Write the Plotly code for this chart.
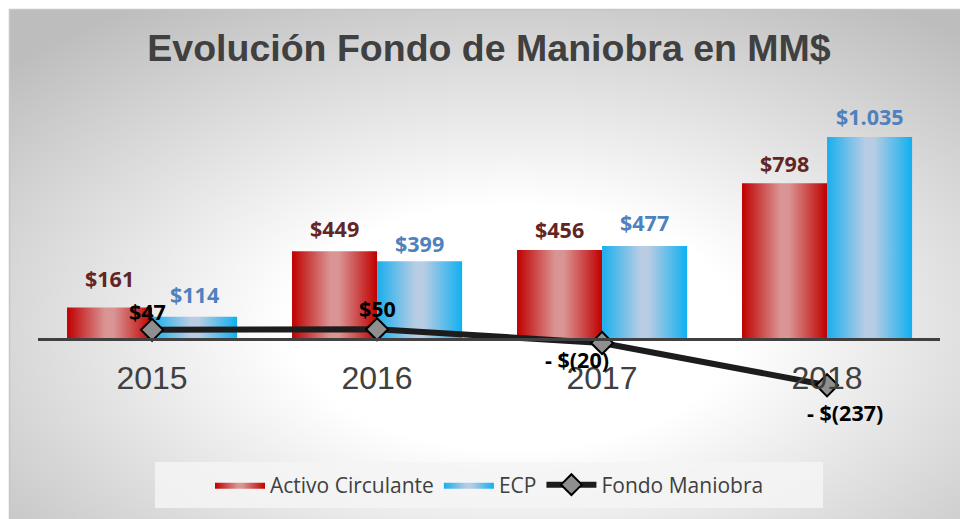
import base64
import plotly.graph_objects as go

# ---------------- data ----------------
years = ["2015", "2016", "2017", "2018"]
activo = [161, 449, 456, 798]
ecp = [114, 399, 477, 1035]
fondo = [47, 50, -20, -237]
activo_labels = ["$161", "$449", "$456", "$798"]
ecp_labels = ["$114", "$399", "$477", "$1.035"]
fondo_labels = ["$47", "$50", "- $(20)", "- $(237)"]

# ---------------- layout constants ----------------
W, H = 960, 519
L, R, T, B = 38, 20, 95, 89
PW, PH = W - L - R, H - T - B
XR = [-0.507, 3.502]
YR = [-466, 1250]
BAR_W = 0.378
zero_pos = (0 - YR[0]) / (YR[1] - YR[0])

RED_SCALE = [[0, "#c00000"], [0.45, "#d99594"], [0.55, "#d99594"], [1, "#c00000"]]
BLUE_SCALE = [[0, "#19afee"], [0.45, "#b8cce4"], [0.55, "#b8cce4"], [1, "#0fb0f0"]]

act_shift = [29, 23, 21, 20]
ecp_shift = [22, 18, 23, 20]
fondo_offsets = [(-5, 18), (0, 21), (-25, -17), (18, -27)]
LABEL_SIZE = 21.5


def px_x(p):
    return (p - L) / PW


def px_y(p):
    return (H - B - p) / PH


fig = go.Figure()


def add_bars(values, name, scale, left):
    for i, v in enumerate(values):
        x0 = i - BAR_W if left else i
        x1 = x0 + BAR_W
        fig.add_trace(go.Scatter(
            x=[x0, x1, x1, x0, x0], y=[0, 0, v, v, 0],
            mode="lines", fill="toself",
            fillgradient=dict(type="horizontal", colorscale=scale),
            line=dict(width=0, color="rgba(0,0,0,0)"),
            name=name, legendgroup=name, showlegend=(i == 0),
            hoverinfo="skip",
        ))


add_bars(activo, "Activo Circulante", RED_SCALE, True)
add_bars(ecp, "ECP", BLUE_SCALE, False)

fig.add_trace(go.Scatter(
    x=list(range(len(years))), y=fondo, mode="lines+markers",
    name="Fondo Maniobra",
    line=dict(color="#1c1c1c", width=6),
    marker=dict(symbol="diamond", size=17, color="#8f8f8f",
                line=dict(color="#000000", width=2)),
    hoverinfo="skip",
))

annotations = []
for i, (v, t) in enumerate(zip(activo, activo_labels)):
    annotations.append(dict(x=i - BAR_W / 2, y=v, text=t, showarrow=False,
                            yshift=act_shift[i], xref="x", yref="y",
                            font=dict(family="Open Sans", size=LABEL_SIZE, color="#632523", weight="bold")))
for i, (v, t) in enumerate(zip(ecp, ecp_labels)):
    annotations.append(dict(x=i + BAR_W / 2, y=v, text=t, showarrow=False,
                            yshift=ecp_shift[i], xref="x", yref="y",
                            font=dict(family="Open Sans", size=LABEL_SIZE, color="#4f81bd", weight="bold")))
for i, (v, t) in enumerate(zip(fondo, fondo_labels)):
    dx, dy = fondo_offsets[i]
    annotations.append(dict(x=i, y=v, text=t, showarrow=False,
                            xshift=dx, yshift=dy, xref="x", yref="y",
                            font=dict(family="Open Sans", size=LABEL_SIZE, color="#000000", weight="bold")))

svg = f'''<svg xmlns="http://www.w3.org/2000/svg" width="{W}" height="{H}" viewBox="0 0 {W} {H}" preserveAspectRatio="none">
<defs><radialGradient id="g" cx="0.52" cy="0.6" r="0.72">
<stop offset="0" stop-color="#ffffff"/><stop offset="0.32" stop-color="#ffffff"/><stop offset="1" stop-color="#bdbdbd"/>
</radialGradient></defs>
<rect width="{W}" height="{H}" fill="#ffffff"/>
<rect x="9.5" y="9.5" width="{W + 10}" height="{H + 10}" fill="url(#g)" stroke="#c6c6c6" stroke-width="1.5"/>
</svg>'''
bg_src = "data:image/svg+xml;base64," + base64.b64encode(svg.encode()).decode()

fig.update_layout(
    width=W, height=H,
    margin=dict(l=L, r=R, t=T, b=B, autoexpand=False),
    paper_bgcolor="#ffffff", plot_bgcolor="rgba(0,0,0,0)",
    images=[dict(source=bg_src, xref="paper", yref="paper",
                 x=-L / PW, y=1 + T / PH, sizex=W / PW, sizey=H / PH,
                 xanchor="left", yanchor="top", sizing="stretch", layer="below")],
    shapes=[dict(type="rect", xref="paper", yref="paper",
                 x0=px_x(155), x1=px_x(823), y0=px_y(508), y1=px_y(462),
                 fillcolor="rgba(244,244,244,0.85)", line=dict(width=0), layer="below")],
    title=dict(text="Evolución Fondo de Maniobra en MM$", x=0.5, xref="paper",
               y=1 - 48 / H, yref="container", xanchor="center", yanchor="middle",
               font=dict(family="Liberation Sans", size=37.5, color="#404040", weight="bold")),
    xaxis=dict(range=XR, tickvals=list(range(len(years))), ticktext=years,
               anchor="free", position=zero_pos, showline=True, linecolor="#404040",
               linewidth=3, showgrid=False, zeroline=False, ticks="",
               ticklabelstandoff=10,
               tickfont=dict(family="Liberation Sans", size=32, color="#404040")),
    yaxis=dict(range=YR, visible=False, showgrid=False, zeroline=False),
    legend=dict(orientation="h", x=px_x(489.5), xanchor="center",
                y=px_y(485), yanchor="middle",
                bgcolor="rgba(0,0,0,0)",
                font=dict(family="Open Sans", size=21, color="#404040"),
                itemwidth=50, traceorder="normal"),
    annotations=annotations,
    showlegend=True,
)

fig.write_html("out.html", config={"displayModeBar": False},
               post_script="document.body.style.margin='0';document.body.style.overflow='hidden';")
